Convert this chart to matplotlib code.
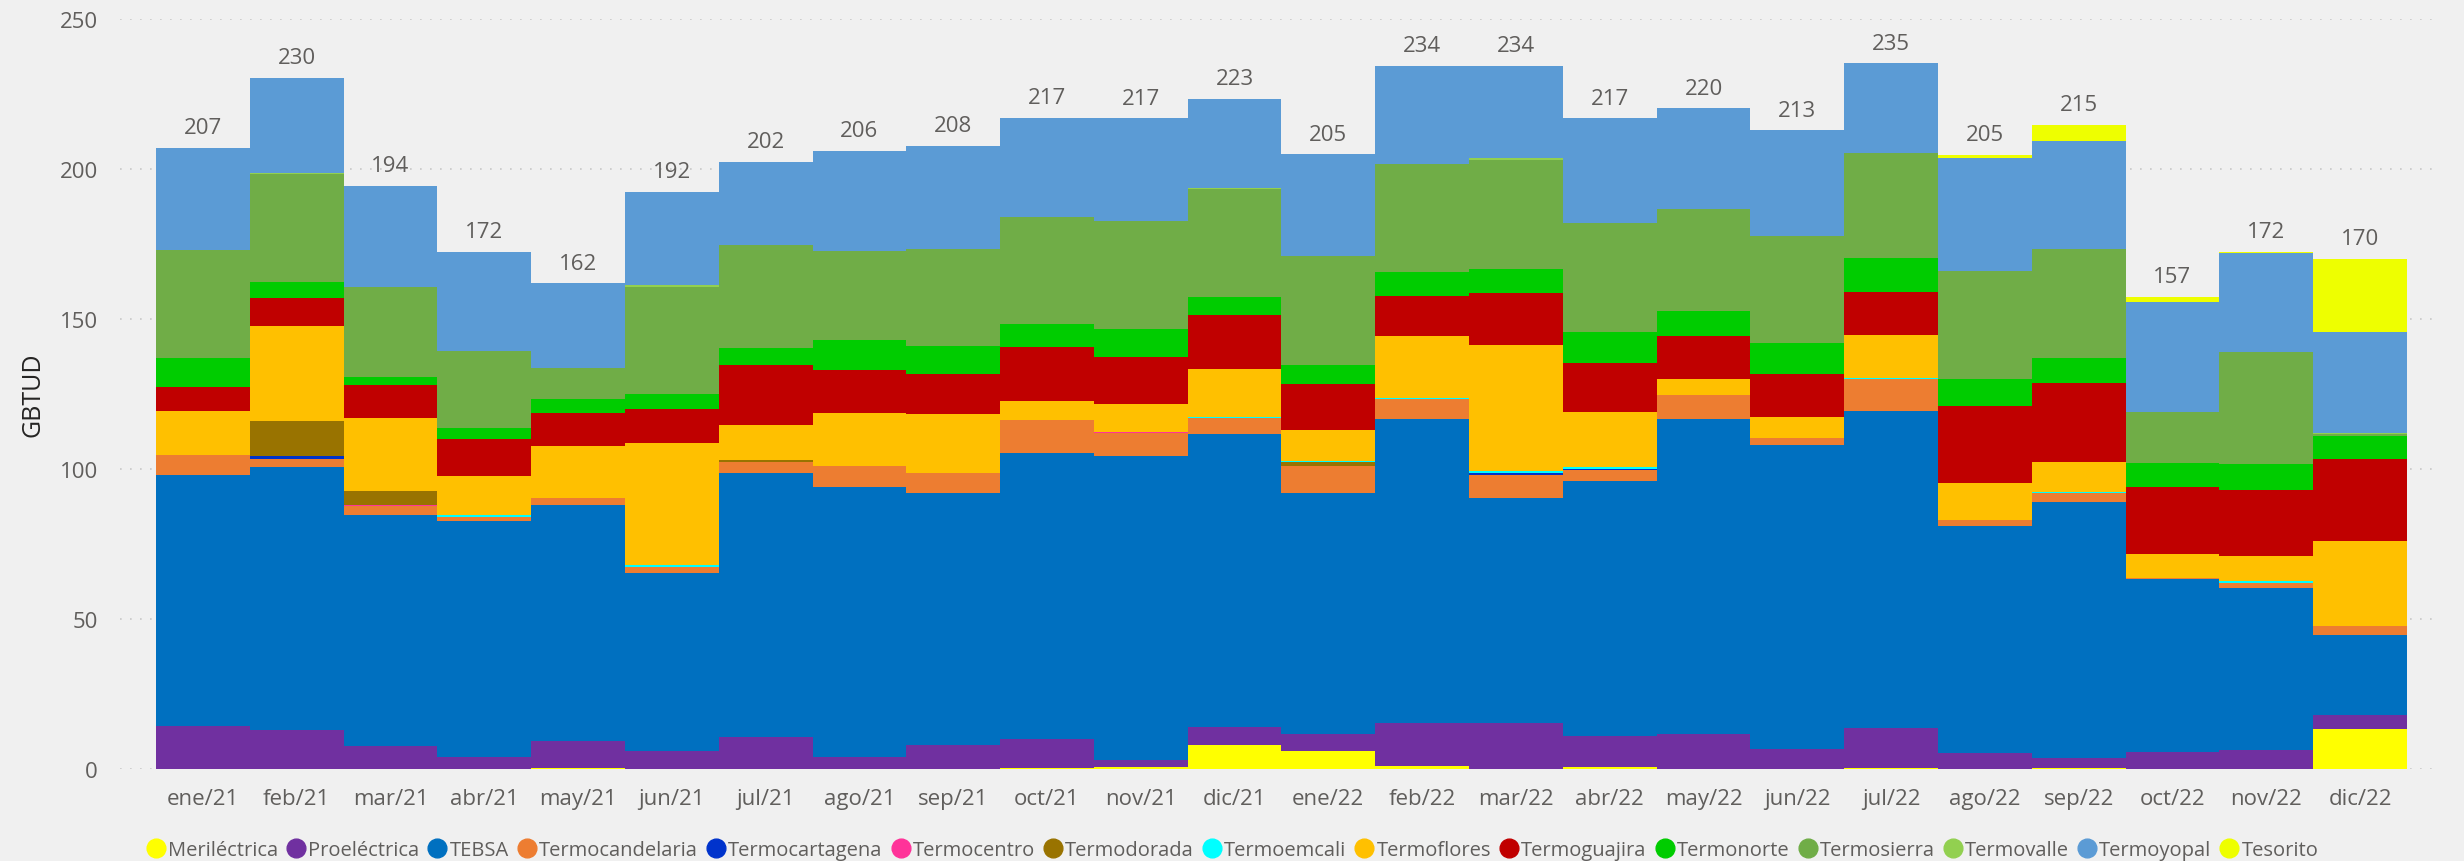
import numpy as np
import matplotlib.pyplot as plt
from matplotlib.lines import Line2D

# meses
meses = ["ene/21", "feb/21", "mar/21", "abr/21", "may/21", "jun/21", "jul/21", "ago/21",
         "sep/21", "oct/21", "nov/21", "dic/21", "ene/22", "feb/22", "mar/22", "abr/22",
         "may/22", "jun/22", "jul/22", "ago/22", "sep/22", "oct/22", "nov/22", "dic/22"]

# GBTUD por planta (de abajo hacia arriba)
merilectrica = [0, 0, 0, 0, 0.3, 0, 0, 0, 0, 0.3, 0.7, 8.0, 6.0, 1.0, 0, 0.7, 0, 0, 0.3, 0, 0.3, 0, 0, 13.3]
proelectrica = [14.3, 13.0, 7.7, 4.1, 9.1, 6.1, 10.8, 4.1, 8.1, 9.8, 2.3, 6.0, 5.7, 14.3, 15.3, 10.3, 11.7, 6.8, 13.3, 5.4, 3.3, 5.8, 6.4, 4.7]
tebsa = [83.7, 87.7, 77.0, 78.6, 78.6, 59.3, 87.9, 89.9, 83.9, 95.2, 101.3, 97.7, 80.3, 101.3, 75.0, 85.0, 105.0, 101.2, 105.7, 75.6, 85.3, 57.7, 53.9, 26.7]
termocandelaria = [6.7, 2.7, 3.0, 1.3, 2.3, 2.0, 3.7, 7.0, 6.7, 11.0, 7.7, 5.3, 9.0, 6.8, 7.7, 3.7, 8.0, 2.3, 10.7, 2.0, 3.0, 0.3, 1.7, 3.0]
termocartagena = [0, 1.0, 0, 0, 0, 0, 0, 0, 0, 0, 0, 0, 0, 0, 0.7, 0.3, 0, 0, 0, 0, 0, 0, 0, 0]
termocentro = [0, 0, 0.3, 0, 0, 0, 0, 0, 0, 0, 0.3, 0, 0, 0, 0, 0, 0, 0, 0, 0, 0, 0, 0, 0]
termodorada = [0, 11.7, 4.7, 0, 0, 0, 0.7, 0, 0, 0, 0, 0, 1.3, 0, 0, 0, 0, 0, 0, 0, 0, 0, 0, 0]
termoemcali = [0, 0, 0, 0.7, 0, 0.7, 0, 0, 0, 0, 0, 0.3, 0.5, 0.3, 0.7, 0.7, 0, 0, 0.3, 0, 0.3, 0, 0.7, 0]
termoflores = [14.7, 31.7, 24.3, 13.0, 17.3, 40.6, 11.7, 17.7, 19.7, 6.3, 9.3, 16.0, 10.2, 20.6, 42.0, 18.3, 5.3, 7.0, 14.3, 12.3, 10.3, 7.9, 8.3, 28.3]
termoguajira = [8.0, 9.3, 11.0, 12.3, 11.0, 11.3, 20.0, 14.3, 13.3, 18.0, 15.7, 18.0, 15.3, 13.3, 17.3, 16.3, 14.3, 14.3, 14.3, 25.7, 26.3, 22.3, 22.0, 27.3]
termonorte = [9.7, 5.3, 2.7, 3.7, 4.7, 5.0, 5.7, 10.0, 9.3, 7.7, 9.3, 6.0, 6.3, 8.0, 8.0, 10.3, 8.3, 10.3, 11.3, 9.0, 8.3, 8.0, 8.7, 7.7]
termosierra = [36.0, 36.1, 30.1, 25.7, 10.3, 35.8, 34.3, 29.8, 32.4, 35.8, 36.1, 36.1, 36.3, 36.0, 36.4, 36.4, 34.2, 35.7, 35.3, 36.1, 36.3, 17.0, 37.3, 0.7]
termovalle = [0, 0.3, 0, 0, 0, 0.6, 0, 0, 0, 0, 0, 0.2, 0, 0, 0.6, 0, 0, 0, 0, 0, 0, 0, 0, 0.3]
termoyopal = [34.0, 31.6, 33.5, 33.0, 28.3, 31.0, 27.6, 33.2, 34.2, 32.9, 34.2, 29.7, 34.0, 32.7, 30.7, 34.9, 33.4, 35.3, 29.7, 37.6, 36.0, 36.7, 33.0, 33.8]
tesorito = [0, 0, 0, 0, 0, 0, 0, 0, 0, 0, 0, 0, 0, 0, 0, 0, 0, 0, 0, 1.0, 5.3, 1.7, 0.3, 24.2]

plantas = ["Meriléctrica", "Proeléctrica", "TEBSA", "Termocandelaria", "Termocartagena",
           "Termocentro", "Termodorada", "Termoemcali", "Termoflores", "Termoguajira",
           "Termonorte", "Termosierra", "Termovalle", "Termoyopal", "Tesorito"]
series = [merilectrica, proelectrica, tebsa, termocandelaria, termocartagena, termocentro,
          termodorada, termoemcali, termoflores, termoguajira, termonorte, termosierra,
          termovalle, termoyopal, tesorito]
colori = ["#FFFF00", "#7030A0", "#0070C0", "#ED7D31", "#0033CC", "#FF3399", "#997300",
          "#00FFFF", "#FFC000", "#C00000", "#00CC00", "#70AD47", "#92D050", "#5B9BD5", "#EEFF00"]

plt.rcParams['font.family'] = ['Open Sans', 'DejaVu Sans']
grigio = "#605E5C"
sfondo = "#F0F0F0"

fig = plt.figure(figsize=(24.64, 8.62), dpi=100, facecolor=sfondo)
ax = fig.add_axes([0.0487, 0.1067, 0.9407, 0.8701], facecolor=sfondo)

x = np.arange(len(meses))
base = np.zeros(len(meses))
for nome, valori, col in zip(plantas, series, colori):
    v = np.array(valori)
    ax.bar(x, v, bottom=base, width=1.0, color=col, linewidth=0, label=nome, zorder=2)
    base += v

# etichette totali
for xi, tot in zip(x, base):
    ax.annotate(f"{tot:.0f}", (xi, tot), xytext=(0, 7), textcoords="offset points",
                ha="center", va="bottom", fontsize=16, color=grigio)

ax.set_xlim(-0.884, 23.83)
ax.set_ylim(0, 250)
ax.set_yticks([0, 50, 100, 150, 200, 250])
ax.set_xticks(x)
ax.set_xticklabels(meses)
ax.tick_params(axis="both", length=0, labelsize=16, labelcolor=grigio)
ax.tick_params(axis="x", pad=14)
ax.tick_params(axis="y", pad=16)
ax.yaxis.grid(True, color="#C8C8C8", linewidth=1.2, linestyle=(0, (1, 5)), zorder=0)
ax.set_axisbelow(True)
for s in ax.spines.values():
    s.set_visible(False)

ax.set_ylabel("GBTUD", fontsize=18, color="#252423", labelpad=10)

handles = [Line2D([0], [0], marker="o", linestyle="none", markersize=13.5,
                  markerfacecolor=c, markeredgecolor=c) for c in colori]
fig.legend(handles, plantas, loc="center", bbox_to_anchor=(0.5, 0.013), ncol=len(plantas),
           frameon=False, fontsize=14.5, labelcolor=grigio, handletextpad=0.1,
           columnspacing=0.4, handlelength=1.0)

fig.savefig("out.png", dpi=100, facecolor=sfondo)
plt.close()
